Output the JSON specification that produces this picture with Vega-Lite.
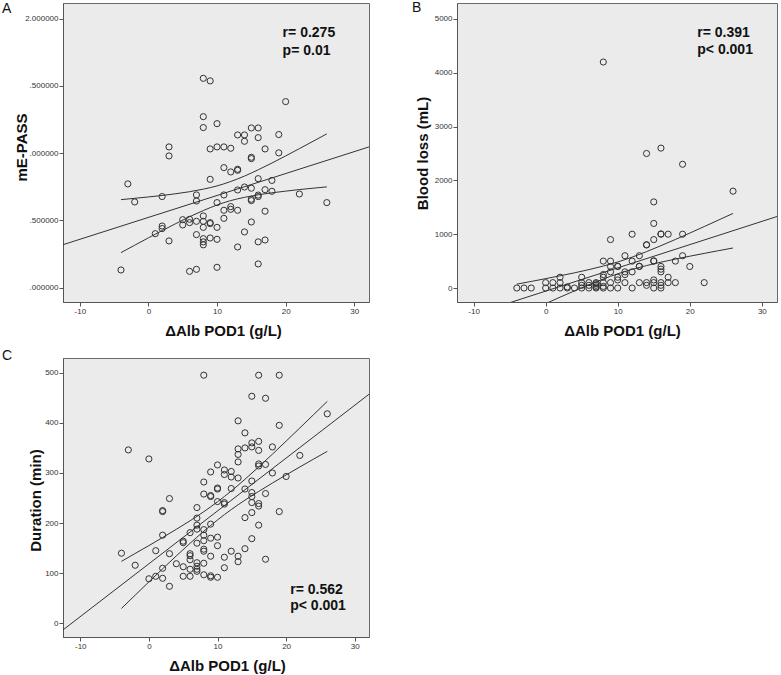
{
  "$schema": "https://vega.github.io/schema/vega-lite/v6.json",
  "background": "white",
  "padding": {"left": 1, "top": 0, "right": 3, "bottom": 0},
  "bounds": "flush",
  "columns": 2,
  "spacing": {"row": 56, "column": 88},
  "config": {
    "font": "Liberation Sans",
    "view": {"fill": "#ebebeb", "stroke": "#6a6a6a", "strokeWidth": 1},
    "axis": {"grid": false, "domainColor": "#555555", "tickColor": "#555555", "tickSize": 4, "labelFontSize": 8, "labelColor": "#333333", "labelPadding": 1, "titleFontSize": 15, "titleFontWeight": "bold", "titleColor": "#111111", "labelFont": "Liberation Sans", "titleFont": "Liberation Sans"},
    "title": {"fontSize": 14, "fontWeight": "normal", "anchor": "start", "frame": "group", "offset": 0, "baseline": "alphabetic", "color": "#111111", "font": "Liberation Sans"}
  },
  "datasets": {
    "a": [
      {"x": -3, "y": 0.771}, {"x": -2, "y": 0.637}, {"x": -4, "y": 0.131}, {"x": 2, "y": 0.677}, {"x": 2, "y": 0.458}, {"x": 2, "y": 0.439}, {"x": 1, "y": 0.401}, {"x": 3, "y": 1.046}, {"x": 3, "y": 0.979}, {"x": 3, "y": 0.347},
      {"x": 5, "y": 0.505}, {"x": 5, "y": 0.466}, {"x": 6, "y": 0.508}, {"x": 6, "y": 0.483}, {"x": 6, "y": 0.121}, {"x": 7, "y": 0.689}, {"x": 7, "y": 0.644}, {"x": 7, "y": 0.493}, {"x": 7, "y": 0.394}, {"x": 7, "y": 0.136},
      {"x": 8, "y": 1.556}, {"x": 8, "y": 1.271}, {"x": 8, "y": 1.19}, {"x": 8, "y": 0.533}, {"x": 8, "y": 0.493}, {"x": 8, "y": 0.448}, {"x": 8, "y": 0.364}, {"x": 8, "y": 0.34}, {"x": 8, "y": 0.318},
      {"x": 9, "y": 1.537}, {"x": 9, "y": 1.031}, {"x": 9, "y": 0.805}, {"x": 9, "y": 0.483}, {"x": 9, "y": 0.476}, {"x": 9, "y": 0.369},
      {"x": 10, "y": 1.219}, {"x": 10, "y": 1.046}, {"x": 10, "y": 0.632}, {"x": 10, "y": 0.448}, {"x": 10, "y": 0.359}, {"x": 10, "y": 0.151},
      {"x": 11, "y": 1.046}, {"x": 11, "y": 0.892}, {"x": 11, "y": 0.689}, {"x": 11, "y": 0.575}, {"x": 11, "y": 0.515},
      {"x": 12, "y": 1.036}, {"x": 12, "y": 0.86}, {"x": 12, "y": 0.602}, {"x": 12, "y": 0.582},
      {"x": 13, "y": 1.135}, {"x": 13, "y": 0.88}, {"x": 13, "y": 0.872}, {"x": 13, "y": 0.726}, {"x": 13, "y": 0.575}, {"x": 13, "y": 0.302},
      {"x": 14, "y": 1.135}, {"x": 14, "y": 1.088}, {"x": 14, "y": 0.748}, {"x": 14, "y": 0.414},
      {"x": 15, "y": 1.187}, {"x": 15, "y": 0.969}, {"x": 15, "y": 0.959}, {"x": 15, "y": 0.739}, {"x": 15, "y": 0.657}, {"x": 15, "y": 0.647}, {"x": 15, "y": 0.488},
      {"x": 16, "y": 1.187}, {"x": 16, "y": 1.115}, {"x": 16, "y": 0.81}, {"x": 16, "y": 0.688}, {"x": 16, "y": 0.677}, {"x": 16, "y": 0.34}, {"x": 16, "y": 0.176},
      {"x": 17, "y": 1.031}, {"x": 17, "y": 0.728}, {"x": 17, "y": 0.568}, {"x": 17, "y": 0.354},
      {"x": 18, "y": 0.797}, {"x": 18, "y": 0.716}, {"x": 19, "y": 1.138}, {"x": 19, "y": 1.002}, {"x": 20, "y": 1.383}, {"x": 22, "y": 0.696}, {"x": 26, "y": 0.632}
    ],
    "aFit": [{"x": -12.45, "y": 0.319}, {"x": 32.15, "y": 1.046}],
    "aCI": [
      {"band": "upper", "x": -4, "y": 0.654}, {"band": "upper", "x": -2, "y": 0.664}, {"band": "upper", "x": 0, "y": 0.674}, {"band": "upper", "x": 2, "y": 0.685}, {"band": "upper", "x": 4, "y": 0.698}, {"band": "upper", "x": 6, "y": 0.713}, {"band": "upper", "x": 8, "y": 0.732}, {"band": "upper", "x": 10, "y": 0.756}, {"band": "upper", "x": 12, "y": 0.789}, {"band": "upper", "x": 14, "y": 0.829}, {"band": "upper", "x": 16, "y": 0.876}, {"band": "upper", "x": 18, "y": 0.926}, {"band": "upper", "x": 20, "y": 0.979}, {"band": "upper", "x": 22, "y": 1.033}, {"band": "upper", "x": 24, "y": 1.088}, {"band": "upper", "x": 26, "y": 1.143},
      {"band": "lower", "x": -4, "y": 0.26}, {"band": "lower", "x": -2, "y": 0.315}, {"band": "lower", "x": 0, "y": 0.37}, {"band": "lower", "x": 2, "y": 0.424}, {"band": "lower", "x": 4, "y": 0.476}, {"band": "lower", "x": 6, "y": 0.527}, {"band": "lower", "x": 8, "y": 0.573}, {"band": "lower", "x": 10, "y": 0.614}, {"band": "lower", "x": 12, "y": 0.647}, {"band": "lower", "x": 14, "y": 0.671}, {"band": "lower", "x": 16, "y": 0.69}, {"band": "lower", "x": 18, "y": 0.705}, {"band": "lower", "x": 20, "y": 0.717}, {"band": "lower", "x": 22, "y": 0.729}, {"band": "lower", "x": 24, "y": 0.739}, {"band": "lower", "x": 26, "y": 0.749}
    ],
    "b": [
      {"x": 8, "y": 4200}, {"x": 14, "y": 2500}, {"x": 16, "y": 2600}, {"x": 19, "y": 2300}, {"x": 26, "y": 1800}, {"x": 15, "y": 1600}, {"x": 15, "y": 1200}, {"x": 12, "y": 1000}, {"x": 16, "y": 1000}, {"x": 16, "y": 1005}, {"x": 17, "y": 1000}, {"x": 19, "y": 1000},
      {"x": 9, "y": 900}, {"x": 15, "y": 900}, {"x": 14, "y": 800}, {"x": 14, "y": 805}, {"x": 11, "y": 600}, {"x": 13, "y": 600}, {"x": 19, "y": 600},
      {"x": 8, "y": 500}, {"x": 9, "y": 500}, {"x": 12, "y": 500}, {"x": 15, "y": 500}, {"x": 15, "y": 505}, {"x": 18, "y": 500},
      {"x": 9, "y": 400}, {"x": 10, "y": 400}, {"x": 10, "y": 405}, {"x": 13, "y": 400}, {"x": 13, "y": 405}, {"x": 16, "y": 400}, {"x": 20, "y": 400}, {"x": 16, "y": 350},
      {"x": 9, "y": 300}, {"x": 11, "y": 300}, {"x": 12, "y": 300}, {"x": 16, "y": 300}, {"x": 8, "y": 250}, {"x": 11, "y": 250}, {"x": 8, "y": 200}, {"x": 2, "y": 200}, {"x": 5, "y": 200}, {"x": 10, "y": 200}, {"x": 17, "y": 200}, {"x": 10, "y": 150}, {"x": 15, "y": 150},
      {"x": 5, "y": 50}, {"x": 6, "y": 50}, {"x": 7, "y": 50}, {"x": 14, "y": 50}, {"x": 16, "y": 50}, {"x": 7, "y": 80},
      {"x": 0, "y": 100}, {"x": 1, "y": 100}, {"x": 2, "y": 100}, {"x": 5, "y": 100}, {"x": 6, "y": 100}, {"x": 7, "y": 100}, {"x": 8, "y": 100}, {"x": 9, "y": 100}, {"x": 11, "y": 100}, {"x": 13, "y": 100}, {"x": 14, "y": 100}, {"x": 15, "y": 100}, {"x": 16, "y": 100}, {"x": 17, "y": 100}, {"x": 18, "y": 100}, {"x": 22, "y": 100},
      {"x": -4, "y": 0}, {"x": -3, "y": 0}, {"x": -2, "y": 0}, {"x": 0, "y": 0}, {"x": 1, "y": 0}, {"x": 2, "y": 0}, {"x": 3, "y": 0}, {"x": 3, "y": 20}, {"x": 4, "y": 0}, {"x": 5, "y": 0}, {"x": 6, "y": 0}, {"x": 7, "y": 0}, {"x": 7, "y": 20}, {"x": 8, "y": 0}, {"x": 8, "y": 30}, {"x": 9, "y": 0}, {"x": 10, "y": 0}, {"x": 12, "y": 0}, {"x": 15, "y": 0}, {"x": 16, "y": 0}
    ],
    "bFit": [{"x": -12.3, "y": -589}, {"x": 32.2, "y": 1333}],
    "bCI": [
      {"band": "upper", "x": -4, "y": 72}, {"band": "upper", "x": -2, "y": 122}, {"band": "upper", "x": 0, "y": 174}, {"band": "upper", "x": 2, "y": 227}, {"band": "upper", "x": 4, "y": 282}, {"band": "upper", "x": 6, "y": 342}, {"band": "upper", "x": 8, "y": 408}, {"band": "upper", "x": 10, "y": 484}, {"band": "upper", "x": 12, "y": 574}, {"band": "upper", "x": 14, "y": 676}, {"band": "upper", "x": 16, "y": 787}, {"band": "upper", "x": 18, "y": 902}, {"band": "upper", "x": 20, "y": 1021}, {"band": "upper", "x": 22, "y": 1142}, {"band": "upper", "x": 24, "y": 1264}, {"band": "upper", "x": 26, "y": 1386},
      {"band": "lower", "x": -4, "y": -534}, {"band": "lower", "x": -2, "y": -411}, {"band": "lower", "x": 0, "y": -290}, {"band": "lower", "x": 2, "y": -170}, {"band": "lower", "x": 4, "y": -53}, {"band": "lower", "x": 6, "y": 61}, {"band": "lower", "x": 8, "y": 167}, {"band": "lower", "x": 10, "y": 264}, {"band": "lower", "x": 12, "y": 347}, {"band": "lower", "x": 14, "y": 417}, {"band": "lower", "x": 16, "y": 480}, {"band": "lower", "x": 18, "y": 537}, {"band": "lower", "x": 20, "y": 591}, {"band": "lower", "x": 22, "y": 643}, {"band": "lower", "x": 24, "y": 694}, {"band": "lower", "x": 26, "y": 744}
    ],
    "c": [
      {"x": 8, "y": 495}, {"x": 16, "y": 495}, {"x": 19, "y": 495}, {"x": 15, "y": 453}, {"x": 17, "y": 449}, {"x": 26, "y": 418}, {"x": 13, "y": 404}, {"x": 19, "y": 395}, {"x": 14, "y": 380}, {"x": -3, "y": 346}, {"x": 0, "y": 328},
      {"x": 16, "y": 363}, {"x": 15, "y": 360}, {"x": 13, "y": 348}, {"x": 14, "y": 350}, {"x": 15, "y": 352}, {"x": 18, "y": 352}, {"x": 16, "y": 345}, {"x": 13, "y": 337}, {"x": 13, "y": 322}, {"x": 10, "y": 316},
      {"x": 11, "y": 306}, {"x": 11, "y": 297}, {"x": 12, "y": 303}, {"x": 12, "y": 292}, {"x": 13, "y": 290}, {"x": 9, "y": 302}, {"x": 16, "y": 318}, {"x": 16, "y": 314}, {"x": 17, "y": 317}, {"x": 18, "y": 300}, {"x": 20, "y": 293}, {"x": 22, "y": 335},
      {"x": 15, "y": 284}, {"x": 8, "y": 282}, {"x": 8, "y": 258}, {"x": 9, "y": 255}, {"x": 9, "y": 253}, {"x": 10, "y": 270}, {"x": 10, "y": 268}, {"x": 10, "y": 243}, {"x": 11, "y": 241}, {"x": 11, "y": 238}, {"x": 12, "y": 269}, {"x": 14, "y": 268},
      {"x": 15, "y": 261}, {"x": 15, "y": 253}, {"x": 17, "y": 259}, {"x": 15, "y": 241}, {"x": 16, "y": 239}, {"x": 16, "y": 234}, {"x": 15, "y": 221}, {"x": 19, "y": 223}, {"x": 3, "y": 249}, {"x": 2, "y": 225}, {"x": 2, "y": 223},
      {"x": 7, "y": 231}, {"x": 7, "y": 210}, {"x": 14, "y": 211}, {"x": 16, "y": 196}, {"x": 9, "y": 198}, {"x": 7, "y": 196}, {"x": 8, "y": 187}, {"x": 7, "y": 188}, {"x": 8, "y": 176}, {"x": 6, "y": 181}, {"x": 2, "y": 176},
      {"x": 8, "y": 165}, {"x": 5, "y": 164}, {"x": 5, "y": 161}, {"x": 7, "y": 160}, {"x": 10, "y": 172}, {"x": 9, "y": 170}, {"x": 15, "y": 169}, {"x": 10, "y": 155}, {"x": 1, "y": 145}, {"x": -4, "y": 140}, {"x": -2, "y": 116},
      {"x": 3, "y": 139}, {"x": 6, "y": 139}, {"x": 6, "y": 135}, {"x": 6, "y": 127}, {"x": 8, "y": 148}, {"x": 8, "y": 144}, {"x": 9, "y": 134}, {"x": 11, "y": 132}, {"x": 12, "y": 144}, {"x": 14, "y": 149}, {"x": 13, "y": 134}, {"x": 13, "y": 123}, {"x": 17, "y": 128},
      {"x": 4, "y": 119}, {"x": 7, "y": 121}, {"x": 7, "y": 114}, {"x": 7, "y": 108}, {"x": 7, "y": 104}, {"x": 6, "y": 108}, {"x": 8, "y": 120}, {"x": 5, "y": 113}, {"x": 11, "y": 111}, {"x": 2, "y": 110},
      {"x": 8, "y": 97}, {"x": 9, "y": 95}, {"x": 9, "y": 92}, {"x": 10, "y": 92}, {"x": 5, "y": 94}, {"x": 6, "y": 94}, {"x": 1, "y": 94}, {"x": 0, "y": 89}, {"x": 2, "y": 90}, {"x": 3, "y": 74}
    ],
    "cFit": [{"x": -12.52, "y": -13}, {"x": 32.08, "y": 457}],
    "cCI": [
      {"band": "upper", "x": -4, "y": 123.8}, {"band": "upper", "x": -2, "y": 139.5}, {"band": "upper", "x": 0, "y": 155.2}, {"band": "upper", "x": 2, "y": 171.3}, {"band": "upper", "x": 4, "y": 187.7}, {"band": "upper", "x": 6, "y": 204.7}, {"band": "upper", "x": 8, "y": 222.8}, {"band": "upper", "x": 10, "y": 242.5}, {"band": "upper", "x": 12, "y": 264}, {"band": "upper", "x": 14, "y": 287.4}, {"band": "upper", "x": 16, "y": 312}, {"band": "upper", "x": 18, "y": 337.5}, {"band": "upper", "x": 20, "y": 363.5}, {"band": "upper", "x": 22, "y": 389.8}, {"band": "upper", "x": 24, "y": 416.3}, {"band": "upper", "x": 26, "y": 442.8},
      {"band": "lower", "x": -4, "y": 29.8}, {"band": "lower", "x": -2, "y": 56.4}, {"band": "lower", "x": 0, "y": 82.8}, {"band": "lower", "x": 2, "y": 108.9}, {"band": "lower", "x": 4, "y": 134.7}, {"band": "lower", "x": 6, "y": 159.7}, {"band": "lower", "x": 8, "y": 183.8}, {"band": "lower", "x": 10, "y": 206.3}, {"band": "lower", "x": 12, "y": 227}, {"band": "lower", "x": 14, "y": 245.8}, {"band": "lower", "x": 16, "y": 263.2}, {"band": "lower", "x": 18, "y": 279.9}, {"band": "lower", "x": 20, "y": 296.1}, {"band": "lower", "x": 22, "y": 312}, {"band": "lower", "x": 24, "y": 327.7}, {"band": "lower", "x": 26, "y": 343.2}
    ]
  },
  "concat": [
    {
      "width": 306, "height": 299,
      "title": {"text": "A", "dx": -61, "dy": 17},
      "encoding": {
        "x": {"field": "x", "type": "quantitative", "title": "ΔAlb POD1 (g/L)", "scale": {"domain": [-12.45, 32.15], "nice": false, "zero": false}, "axis": {"values": [-10, 0, 10, 20, 30], "labelExpr": "'' + datum.value", "titleX": 160, "titleY": 33, "titleBaseline": "alphabetic", "titleAlign": "center"}},
        "y": {"field": "y", "type": "quantitative", "title": "mE-PASS", "scale": {"domain": [-0.107, 2.116], "nice": false, "zero": false}, "axis": {"values": [0, 0.5, 1, 1.5, 2], "labelExpr": "datum.value == 2 ? '2.000000' : ((datum.value == 1.5 || datum.value == 0.5) ? '.500000' : '.000000')", "titleX": -42, "titleY": 144, "titleBaseline": "middle", "titleAlign": "center", "titleAngle": -90}}
      },
      "layer": [
        {"data": {"name": "a"}, "mark": {"type": "point", "shape": "circle", "filled": false, "size": 38, "stroke": "#333333", "strokeWidth": 1, "opacity": 1}},
        {"data": {"name": "aFit"}, "mark": {"type": "line", "color": "#333333", "strokeWidth": 1, "clip": true}},
        {"data": {"name": "aCI"}, "mark": {"type": "line", "color": "#333333", "strokeWidth": 1, "clip": true, "interpolate": "monotone"}, "encoding": {"detail": {"field": "band"}}},
        {"data": {"name": "aFit"}, "transform": [{"filter": "datum.x < 0"}], "mark": {"type": "text", "align": "left", "baseline": "middle", "lineHeight": 18, "fontSize": 14, "fontWeight": "bold", "color": "#111111"}, "encoding": {"x": {"datum": 19.56, "type": "quantitative"}, "y": {"datum": 1.896, "type": "quantitative"}, "text": {"value": ["r= 0.275", "p= 0.01"]}}}
      ]
    },
    {
      "width": 320, "height": 299,
      "title": {"text": "B", "dx": -45, "dy": 16},
      "encoding": {
        "x": {"field": "x", "type": "quantitative", "title": "ΔAlb POD1 (g/L)", "scale": {"domain": [-12.3, 32.1], "nice": false, "zero": false}, "axis": {"values": [-10, 0, 10, 20, 30], "labelExpr": "'' + datum.value", "titleX": 165, "titleY": 33, "titleBaseline": "alphabetic", "titleAlign": "center"}},
        "y": {"field": "y", "type": "quantitative", "title": "Blood loss (mL)", "scale": {"domain": [-260, 5297], "nice": false, "zero": false}, "axis": {"values": [0, 1000, 2000, 3000, 4000, 5000], "labelExpr": "'' + datum.value", "titleX": -35, "titleY": 150, "titleBaseline": "middle", "titleAlign": "center", "titleAngle": -90}}
      },
      "layer": [
        {"data": {"name": "b"}, "mark": {"type": "point", "shape": "circle", "filled": false, "size": 38, "stroke": "#333333", "strokeWidth": 1, "opacity": 1}},
        {"data": {"name": "bFit"}, "mark": {"type": "line", "color": "#333333", "strokeWidth": 1, "clip": true}},
        {"data": {"name": "bCI"}, "mark": {"type": "line", "color": "#333333", "strokeWidth": 1, "clip": true, "interpolate": "monotone"}, "encoding": {"detail": {"field": "band"}}},
        {"data": {"name": "bFit"}, "transform": [{"filter": "datum.x < 0"}], "mark": {"type": "text", "align": "left", "baseline": "middle", "lineHeight": 17, "fontSize": 14, "fontWeight": "bold", "color": "#111111"}, "encoding": {"x": {"datum": 21.04, "type": "quantitative"}, "y": {"datum": 4734, "type": "quantitative"}, "text": {"value": ["r= 0.391", "p< 0.001"]}}}
      ]
    },
    {
      "width": 306, "height": 279,
      "title": {"text": "C", "dx": -61, "dy": 9},
      "encoding": {
        "x": {"field": "x", "type": "quantitative", "title": "ΔAlb POD1 (g/L)", "scale": {"domain": [-12.52, 32.08], "nice": false, "zero": false}, "axis": {"values": [-10, 0, 10, 20, 30], "labelExpr": "'' + datum.value", "titleX": 164, "titleY": 33, "titleBaseline": "alphabetic", "titleAlign": "center"}},
        "y": {"field": "y", "type": "quantitative", "title": "Duration (min)", "scale": {"domain": [-27.1, 529.3], "nice": false, "zero": false}, "axis": {"values": [0, 100, 200, 300, 400, 500], "labelExpr": "'' + datum.value", "titleX": -28, "titleY": 142, "titleBaseline": "middle", "titleAlign": "center", "titleAngle": -90}}
      },
      "layer": [
        {"data": {"name": "c"}, "mark": {"type": "point", "shape": "circle", "filled": false, "size": 38, "stroke": "#333333", "strokeWidth": 1, "opacity": 1}},
        {"data": {"name": "cFit"}, "mark": {"type": "line", "color": "#333333", "strokeWidth": 1, "clip": true}},
        {"data": {"name": "cCI"}, "mark": {"type": "line", "color": "#333333", "strokeWidth": 1, "clip": true, "interpolate": "monotone"}, "encoding": {"detail": {"field": "band"}}},
        {"data": {"name": "cFit"}, "transform": [{"filter": "datum.x < 0"}], "mark": {"type": "text", "align": "left", "baseline": "middle", "lineHeight": 16, "fontSize": 14, "fontWeight": "bold", "color": "#111111"}, "encoding": {"x": {"datum": 20.6, "type": "quantitative"}, "y": {"datum": 65.8, "type": "quantitative"}, "text": {"value": ["r= 0.562", "p< 0.001"]}}}
      ]
    }
  ]
}
